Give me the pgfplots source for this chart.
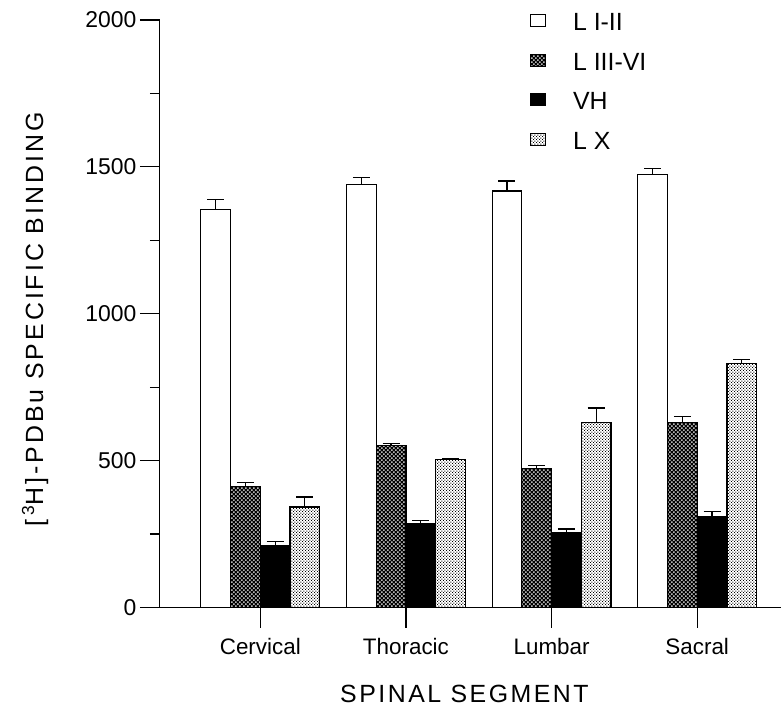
\documentclass[border=0pt]{standalone}
\usepackage{fontspec}
\setmainfont{Liberation Sans}
\usepackage{pgfplots}
\usepackage{pgfplotstable}
\pgfplotsset{compat=1.18}
\usetikzlibrary{patterns}

% dark cross-hatch: black with small white holes
\pgfdeclarepatternformonly{darkcheck}{\pgfqpoint{0bp}{0bp}}{\pgfqpoint{4bp}{4bp}}{\pgfqpoint{4bp}{4bp}}{%
  \pgfpathrectangle{\pgfqpoint{0bp}{0bp}}{\pgfqpoint{4bp}{4bp}}%
  \pgfpathrectangle{\pgfqpoint{0.25bp}{0.25bp}}{\pgfqpoint{1.5bp}{1.5bp}}%
  \pgfpathrectangle{\pgfqpoint{2.25bp}{2.25bp}}{\pgfqpoint{1.5bp}{1.5bp}}%
  \pgfseteorule\pgfusepath{fill}}
% light stipple
\pgfdeclarepatternformonly{lightdots}{\pgfqpoint{0bp}{0bp}}{\pgfqpoint{3bp}{3bp}}{\pgfqpoint{3bp}{3bp}}{%
  \pgfpathrectangle{\pgfqpoint{0bp}{0bp}}{\pgfqpoint{0.9bp}{0.9bp}}%
  \pgfpathrectangle{\pgfqpoint{1.5bp}{1.5bp}}{\pgfqpoint{0.9bp}{0.9bp}}%
  \pgfusepath{fill}}

% segment, then mean and SEM for each layer
\pgfplotstableread{
x  a    ae  b    be  c    ce  d    de
0  1354 34  412  14  212  12  342  34
1  1440 25  552  7   285  11  503  4
2  1418 34  472  12  254  13  630  49
3  1475 20  630  20  309  18  831  14
}\spinal

\pgfplotsset{errplus/.style={error bars/.cd, y dir=plus, y explicit,
  error bar style={line width=1.2bp, black},
  error mark options={rotate=90, line width=1.2bp, mark size=8.5bp, black}}}

\begin{document}
\begin{tikzpicture}
\begin{axis}[
  scale only axis, width=622bp, height=588bp,
  xmin=-0.6895, xmax=3.578, ymin=0, ymax=2000,
  axis x line*=bottom, axis y line*=left,
  axis line style={line width=1.2bp},
  ybar=0pt, bar width=29.75bp,
  xtick={0,1,2,3}, xticklabels={Cervical,Thoracic,Lumbar,Sacral},
  ytick={0,500,1000,1500,2000}, minor y tick num=1,
  tick align=outside, major tick length=20bp, minor tick length=10bp,
  tick style={line width=1.2bp, black},
  /pgf/number format/assume math mode=true,
  /pgf/number format/set thousands separator={},
  yticklabel style={font=\fontsize{23}{27}\selectfont},
  xticklabel style={font=\fontsize{22.5}{26}\selectfont, yshift=-7bp},
  xlabel={\addfontfeatures{LetterSpace=10}SPINAL SEGMENT},
  xlabel style={at={(axis description cs:0.49,-0.161)}, anchor=base, font=\fontsize{25}{29}\selectfont},
  ylabel={\addfontfeatures{LetterSpace=12}[\,\textsuperscript{3}H]-PDBu SPECIFIC BINDING},
  ylabel style={at={(axis description cs:-0.188,0.49)}, anchor=base, font=\fontsize{25}{29}\selectfont},
  legend image code/.code={\draw[#1] (0bp,-4bp) rectangle (15bp,8bp);},
  legend cell align=left,
  legend style={draw=none, fill=none, inner sep=0pt,
    at={(axis description cs:0.595,1.015)}, anchor=north west,
    font=\fontsize{25}{29}\selectfont, row sep=17bp,
    /tikz/every odd column/.append style={column sep=25bp}},
]
\addplot[draw=black, line width=1.2bp, fill=white, errplus] table[x=x, y=a, y error=ae] {\spinal};
\addlegendentry{L I-II}
\addplot[draw=black, line width=1.2bp, pattern=darkcheck, pattern color=black, errplus] table[x=x, y=b, y error=be] {\spinal};
\addlegendentry{L III-VI}
\addplot[draw=black, line width=1.2bp, fill=black, errplus] table[x=x, y=c, y error=ce] {\spinal};
\addlegendentry{VH}
\addplot[draw=black, line width=1.2bp, pattern=lightdots, pattern color=black, errplus] table[x=x, y=d, y error=de] {\spinal};
\addlegendentry{L X}
\end{axis}
\path (current axis.south west) ++(-160bp,-99bp) ++(782bp,707bp);
\end{tikzpicture}
\end{document}
